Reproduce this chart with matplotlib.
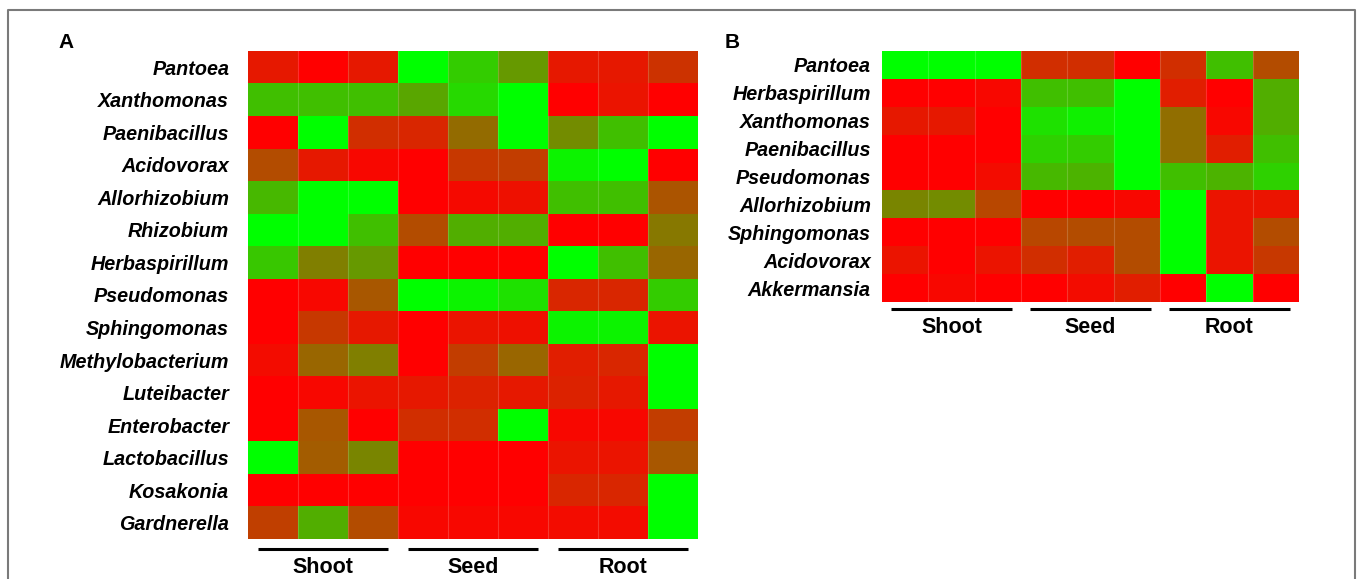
import numpy as np
import matplotlib
matplotlib.use("Agg")
import matplotlib.pyplot as plt
from matplotlib.colors import LinearSegmentedColormap

# data: 0 = green (low), 1 = red (high)
groups = ["Shoot", "Seed", "Root"]

genera_a = ["Pantoea", "Xanthomonas", "Paenibacillus", "Acidovorax", "Allorhizobium",
            "Rhizobium", "Herbaspirillum", "Pseudomonas", "Sphingomonas", "Methylobacterium",
            "Luteibacter", "Enterobacter", "Lactobacillus", "Kosakonia", "Gardnerella"]
values_a = [
    [0.90, 1.00, 0.90, 0.00, 0.20, 0.40, 0.90, 0.90, 0.80],
    [0.25, 0.25, 0.25, 0.35, 0.15, 0.00, 1.00, 0.92, 1.00],
    [1.00, 0.00, 0.82, 0.85, 0.58, 0.00, 0.45, 0.25, 0.00],
    [0.70, 0.90, 0.97, 1.00, 0.78, 0.76, 0.05, 0.00, 1.00],
    [0.28, 0.00, 0.00, 1.00, 0.96, 0.93, 0.25, 0.25, 0.67],
    [0.00, 0.00, 0.25, 0.70, 0.32, 0.32, 1.00, 1.00, 0.53],
    [0.22, 0.50, 0.40, 1.00, 1.00, 1.00, 0.00, 0.25, 0.60],
    [1.00, 0.97, 0.66, 0.00, 0.05, 0.12, 0.85, 0.85, 0.20],
    [1.00, 0.78, 0.90, 1.00, 0.92, 0.93, 0.05, 0.05, 0.92],
    [0.95, 0.60, 0.50, 1.00, 0.76, 0.60, 0.88, 0.85, 0.00],
    [1.00, 0.97, 0.92, 0.90, 0.86, 0.90, 0.86, 0.90, 0.00],
    [1.00, 0.66, 1.00, 0.82, 0.82, 0.00, 0.97, 0.97, 0.76],
    [0.00, 0.64, 0.48, 1.00, 1.00, 1.00, 0.92, 0.92, 0.66],
    [1.00, 1.00, 1.00, 1.00, 1.00, 1.00, 0.85, 0.85, 0.00],
    [0.75, 0.32, 0.70, 0.97, 0.97, 0.97, 0.95, 0.95, 0.00],
]

genera_b = ["Pantoea", "Herbaspirillum", "Xanthomonas", "Paenibacillus", "Pseudomonas",
            "Allorhizobium", "Sphingomonas", "Acidovorax", "Akkermansia"]
values_b = [
    [0.00, 0.00, 0.00, 0.82, 0.82, 1.00, 0.82, 0.25, 0.70],
    [1.00, 1.00, 0.97, 0.25, 0.25, 0.00, 0.88, 1.00, 0.32],
    [0.90, 0.90, 1.00, 0.12, 0.06, 0.00, 0.57, 0.97, 0.32],
    [1.00, 1.00, 1.00, 0.18, 0.20, 0.00, 0.57, 0.88, 0.25],
    [1.00, 1.00, 0.95, 0.28, 0.30, 0.00, 0.25, 0.30, 0.18],
    [0.48, 0.45, 0.72, 1.00, 1.00, 0.97, 0.00, 0.92, 0.92],
    [1.00, 1.00, 1.00, 0.72, 0.70, 0.70, 0.00, 0.92, 0.70],
    [0.92, 1.00, 0.92, 0.82, 0.88, 0.70, 0.00, 0.92, 0.78],
    [1.00, 0.97, 1.00, 1.00, 0.95, 0.88, 1.00, 0.00, 1.00],
]

cmap = LinearSegmentedColormap.from_list("gr", ["#00ff00", "#ff0000"])
W, H = 1358, 579
fig = plt.figure(figsize=(W / 100, H / 100), dpi=100)
plt.rcParams['font.family'] = ['Liberation Sans', 'DejaVu Sans']

# outer frame (open at bottom)
fig.add_artist(plt.Line2D([8 / W, 8 / W, 1355 / W, 1355 / W],
                          [0, 1 - 10 / H, 1 - 10 / H, 0],
                          transform=fig.transFigure, color="#7a7a7a", lw=1.5))


def px_axes(x0, y0, x1, y1):
    return fig.add_axes([x0 / W, 1 - y1 / H, (x1 - x0) / W, (y1 - y0) / H])


def draw_panel(ax, names, vals, pad, bar_off, text_off):
    data = np.array(vals)
    n, m = data.shape
    ax.imshow(data, cmap=cmap, vmin=0, vmax=1, aspect="auto", interpolation="nearest")
    for c in range(1, m):
        ax.axvline(c - 0.5, color="white", alpha=0.18, lw=0.8)
    ax.set_yticks(range(n))
    ax.set_yticklabels(names, fontsize=14.2, fontweight="bold", fontstyle="italic")
    ax.tick_params(axis="y", length=0, pad=pad)
    ax.set_xticks([])
    for s in ax.spines.values():
        s.set_visible(False)
    for g, name in enumerate(groups):
        x0 = 3 * g - 0.5 + 0.2
        x1 = 3 * g + 2.5 - 0.2
        ax.plot([x0, x1], [n - 0.5 + bar_off, n - 0.5 + bar_off], color="black",
                lw=2.2, clip_on=False, solid_capstyle="butt")
        ax.text(3 * g + 1, n - 0.5 + text_off, name, ha="center", va="center",
                fontsize=15.5, fontweight="bold")
    ax.set_xlim(-0.5, m - 0.5)
    ax.set_ylim(n - 0.5, -0.5)


ax_a = px_axes(248, 51, 698, 539)
draw_panel(ax_a, genera_a, values_a, 13.5, 0.31, 0.87)

ax_b = px_axes(882, 51, 1299, 302)
draw_panel(ax_b, genera_b, values_b, 8, 0.26, 0.9)

fig.text(58 / W, 1 - 42 / H, "A", fontsize=15, fontweight="bold", ha="left", va="center")
fig.text(725 / W, 1 - 42 / H, "B", fontsize=15, fontweight="bold", ha="left", va="center")

fig.savefig("out.png", dpi=100)
